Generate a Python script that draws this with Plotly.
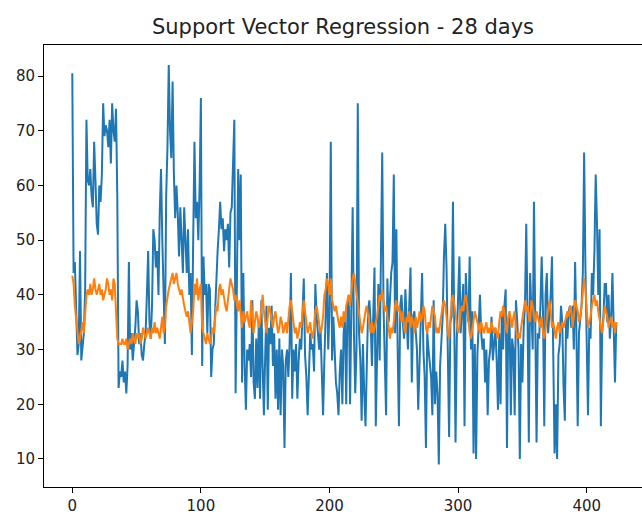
import plotly.graph_objects as go

# Blue series (actual values), indices 0..423
actual = (
    [80.5, 44, 46, 36, 29, 31, 48, 28, 30, 33,
     41, 72, 61, 60, 63, 58, 56, 68, 61, 53,
     51, 60, 57, 62, 75, 69, 71, 70, 67, 72,
     64, 75, 70, 68]
    + [74, 58, 23, 26, 25, 28, 24, 26, 22, 27,
       46, 30, 33, 28, 31, 34, 39, 37, 31, 33,
       29, 28, 31, 33, 40, 48, 35, 32, 38, 52,
       50, 45, 48, 40, 55, 63, 50, 38, 31, 58,
       67, 82, 70, 65, 79, 62, 54, 60, 55, 47,
       56, 50, 44, 56, 48, 44, 52, 40]
    + [44, 29, 50, 68, 54, 57, 50, 60, 76, 27,
       47, 40, 42, 33, 42, 41, 25, 30, 31, 38,
       45, 48, 52, 57, 52, 54, 48, 52, 50, 53,
       45, 55, 56, 66, 72, 22, 45, 63, 50, 62,
       24, 44, 27, 19, 30, 28, 31, 25, 39, 24,
       21, 32, 23, 35, 21, 39, 27, 18]
    + [29, 38, 19, 34, 31, 38, 27, 33, 21, 30,
       19, 32, 18, 30, 27, 12, 28, 30, 25, 31,
       44, 21, 30, 26, 31, 21, 28, 32, 30, 38,
       43, 29, 25, 18, 27, 33, 30, 31, 26, 42,
       36, 33, 30, 34, 25, 18, 28, 37, 44, 30,
       37, 68, 28, 36, 30, 24, 22, 18, 26]
    + [30, 20, 33, 36, 20, 38, 40, 20, 35, 56,
       33, 22, 30, 75, 33, 28, 17, 31, 22, 16,
       27, 37, 39, 35, 27, 37, 45, 16, 33, 42,
       28, 50, 66, 38, 25, 18, 43, 35, 39, 44,
       46, 62, 33, 52, 30, 16, 38, 40, 35, 32,
       41, 34, 30, 38, 45, 24, 36, 37, 34, 30,
       19, 28, 33]
    + [44, 30, 25, 12, 33, 30, 28, 25, 18, 39,
       20, 26, 22, 9, 27, 33, 36, 47, 53, 45,
       30, 14, 35, 36, 57, 30, 13, 32, 40, 47,
       33, 37, 42, 16, 44, 38, 35, 47, 30, 37,
       11, 31, 10, 29, 34, 40, 33, 30, 32, 24,
       30, 18, 28, 30, 36, 28, 31, 34]
    + [28, 19, 33, 20, 37, 30, 38, 41, 12, 35,
       36, 18, 32, 30, 18, 39, 35, 30, 10, 31,
       24, 34, 38, 53, 36, 13, 44, 37, 30, 57,
       35, 13, 33, 32, 38, 47, 37, 16, 40, 44,
       33, 36, 40, 47, 31, 11, 20, 10, 29, 31,
       38, 35, 23, 17, 36, 32, 37, 38, 34]
    + [38, 30, 46, 33, 16, 33, 36, 38, 44, 66,
       45, 31, 18, 34, 32, 44, 40, 48, 62, 53,
       40, 52, 16, 33, 36, 42, 42, 35, 40, 32,
       36, 44, 30, 24, 35]
)

# Orange series (SVR predictions), indices 0..423
predicted = (
    [43.5, 42, 38, 36, 33, 31, 32, 34, 35, 33,
     37, 40, 41, 40, 42, 40, 41, 43, 41, 40,
     41, 42, 40, 41, 39, 40, 41, 43, 42, 40,
     41, 39, 43, 42]
    + [38, 32, 31, 31, 31, 32, 31, 31, 32, 30,
       31, 32, 31, 33, 32, 31, 33, 32, 33, 31,
       32, 34, 33, 32, 33, 34, 33, 32, 34, 33,
       35, 33, 34, 33, 32, 34, 36, 33, 34, 38,
       40, 41, 42, 43, 44, 42, 43, 44, 42, 41,
       40, 41, 39, 38, 37, 36, 37, 35]
    + [33, 35, 37, 42, 40, 43, 39, 41, 42, 34,
       33, 32, 31, 33, 32, 31, 32, 34, 33, 36,
       38, 37, 41, 42, 40, 41, 39, 38, 37, 39,
       42, 43, 42, 41, 39, 40, 38, 37, 39, 36,
       34, 37, 35, 36, 37, 35, 34, 39, 36, 33,
       35, 37, 36, 34, 35, 38, 40, 37]
    + [35, 33, 36, 38, 37, 35, 34, 36, 37, 35,
       33, 34, 36, 35, 33, 34, 35, 33, 36, 38,
       39, 37, 35, 33, 34, 32, 33, 35, 34, 36,
       39, 37, 35, 33, 34, 35, 33, 32, 34, 37,
       38, 36, 35, 33, 34, 36, 40, 41, 43, 42,
       40, 43, 39, 38, 37, 38, 36, 35, 34]
    + [36, 34, 37, 35, 38, 39, 40, 38, 41, 43,
       44, 42, 40, 38, 36, 35, 33, 34, 36, 37,
       38, 36, 34, 33, 35, 33, 34, 35, 36, 38,
       40, 39, 41, 39, 37, 38, 36, 33, 32, 34,
       33, 35, 38, 39, 37, 38, 36, 35, 37, 34,
       33, 36, 35, 37, 34, 36, 35, 33, 36, 34,
       35, 37, 35]
    + [36, 38, 37, 34, 33, 35, 34, 36, 38, 37,
       36, 33, 34, 33, 35, 36, 38, 39, 38, 36,
       33, 32, 35, 39, 40, 38, 36, 34, 33, 34,
       37, 38, 37, 39, 40, 38, 35, 33, 32, 34,
       36, 37, 36, 35, 34, 33, 35, 34, 33, 34,
       35, 33, 34, 33, 35, 34, 33, 34]
    + [33, 32, 35, 37, 36, 38, 37, 34, 33, 36,
       37, 35, 34, 36, 37, 34, 32, 33, 32, 34,
       36, 38, 39, 37, 38, 36, 35, 39, 38, 36,
       35, 37, 36, 35, 34, 36, 33, 32, 34, 36,
       38, 39, 37, 34, 35, 33, 32, 34, 35, 33,
       34, 35, 34, 35, 36, 37, 36, 38, 37]
    + [34, 36, 39, 38, 37, 35, 36, 38, 40, 43,
       41, 37, 34, 35, 36, 38, 39, 40, 38, 39,
       37, 35, 34, 33, 36, 38, 37, 36, 34, 35,
       36, 34, 35, 33, 35]
)

x_ticks = [0, 100, 200, 300, 400]
y_ticks = [10, 20, 30, 40, 50, 60, 70, 80]
title_text = "Support Vector Regression - 28 days"

fig = go.Figure()
fig.add_trace(go.Scatter(x=list(range(len(actual))), y=actual, mode="lines",
                         line=dict(color="#1f77b4", width=2), showlegend=False))
fig.add_trace(go.Scatter(x=list(range(len(predicted))), y=predicted, mode="lines",
                         line=dict(color="#ff7f0e", width=2), showlegend=False))

axis_common = dict(showgrid=False, zeroline=False, showline=True, linecolor="#000000",
                   linewidth=1, ticks="outside", ticklen=5, tickwidth=1, tickcolor="#000000",
                   tickfont=dict(family="DejaVu Sans", size=15, color="#222222"))

fig.update_layout(
    width=642, height=519,
    margin=dict(l=44, r=0, t=45, b=32),
    paper_bgcolor="white", plot_bgcolor="white",
    title=dict(text=title_text, x=0.5, xref="paper", y=(519 - 27) / 519, yref="container",
               xanchor="center", yanchor="middle",
               font=dict(family="DejaVu Sans", size=21, color="#222222")),
    xaxis=dict(range=[-22.0, 443.0], tickvals=x_ticks, mirror=True, **axis_common),
    yaxis=dict(range=[4.88, 85.67], tickvals=y_ticks, mirror=True, **axis_common),
)

fig.write_html("out.html")
